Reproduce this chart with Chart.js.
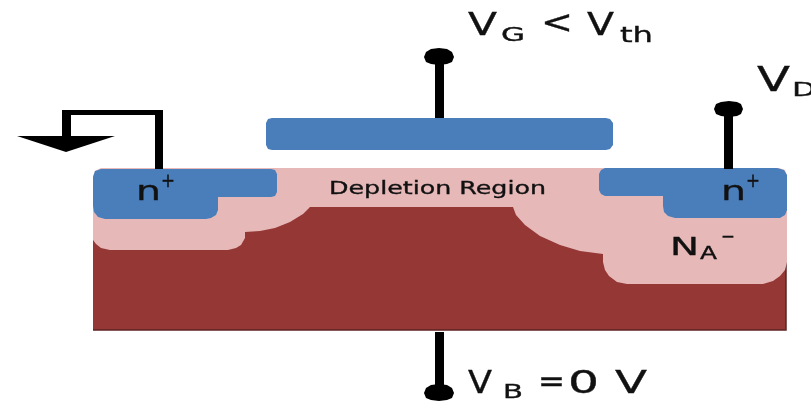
<!DOCTYPE html>
<html>
<head>
<meta charset="utf-8">
<style>
  html, body { margin: 0; padding: 0; background: #fff; overflow: hidden; }
  canvas { display: block; filter: blur(0.5px); }
</style>
<script src="https://cdn.jsdelivr.net/npm/chart.js@4/dist/chart.umd.min.js"></script>
</head>
<body>
<canvas id="chart" width="811" height="401"></canvas>
<script>
// outlines, in picture pixels
var substrate = [[93,190],[786,190],[786,330],[93,330]];
var depletion = [[101,168],[779,168],[785,170],[787,176],[787,262],[785,270],[780,276],[773,281],[763,284],
  [627,284],[617,282],[609,276],[605,270],[603,262],[603,254],[580,251],[560,245],[540,236],[525,225],[516,215],[513,207],
  [310,207],[303,214],[290,222],[275,228],[260,231],[245,232],[245,238],[241,245],[236,248],[228,250],
  [110,250],[101,248],[96,244],[93,240],[93,176],[95,171]];
var sourceWell = [[101,169],[271,169],[275,170],[277,174],[277,192],[275,196],[271,197],[218,197],[218,210],[216,215],[211,218],[206,219],
  [105,219],[98,217],[94,212],[93,206],[93,177],[95,171]];
var drainWell = [[605,168],[777,168],[784,170],[787,175],[787,210],[785,215],[780,218],[675,218],[668,216],[664,212],[663,206],
  [663,196],[605,196],[601,194],[599,190],[599,174],[601,170]];
var gatePlate = [[272,118],[606,118],[610,119],[613,123],[613,145],[610,149],[606,150],[272,150],[268,149],[266,145],[266,123],[268,119]];
var sourceWire = [[62,110],[163,110],[163,169],[155,169],[155,115],[71,115],[71,137],[62,137]];
var groundArrow = [[17,136],[115,136],[66,152]];
var gateStem = [[435,60],[444,60],[444,118],[435,118]];
var gateKnob = [[424,57],[426,52],[431,49],[439,48],[447,49],[452,52],[454,57],[452,62],[447,64],[439,65],[431,64],[426,62]];
var drainStem = [[724,112],[733,112],[733,169],[724,169]];
var drainKnob = [[714,109],[716,104],[721,102],[729,101],[737,102],[741,104],[743,109],[741,114],[737,116],[729,117],[721,116],[716,114]];
var bodyStem = [[435,332],[444,332],[444,390],[435,390]];
var bodyKnob = [[424,393],[426,388],[431,385],[439,384],[447,385],[452,388],[454,393],[452,398],[447,400],[439,401],[431,400],[426,398]];

var shapes = [substrate, depletion, sourceWell, drainWell, gatePlate, sourceWire, groundArrow,
  gateStem, gateKnob, drainStem, drainKnob, bodyStem, bodyKnob];
var shapeColors = ['#953735', '#e6b9b8', '#4a7ebb', '#4a7ebb', '#4a7ebb', '#000', '#000',
  '#000', '#000', '#000', '#000', '#000', '#000'];

// text, and where each piece goes: left, baseline, font size, width
var texts = ['V', 'G', '<', 'V', 'th', 'V', 'D', 'n', '+', 'n', '+', 'Depletion Region', 'N', 'A', '\u2212', 'V', 'B', '=', '0', 'V'];
var textBoxes = [
  [468,35,32,29], [501,41,19,24], [541,33,32,32], [587,35,32,27], [620,42,21,33],
  [757,91,33,33], [792,96,20,24],
  [136,200,27,25], [161,187,20,14],
  [721,200,27,25], [746,187,20,14],
  [329,194,18,217],
  [670,255,25,29], [700,259,17,17], [721,243,20,14],
  [468,393,32,24], [503,398,19,20], [538,391,30,27], [568,393,32,31], [615,393,32,32]
];

var textPlugin = {
  id: 'diagramText',
  afterDatasetsDraw: function(chart) {
    var ctx = chart.ctx;
    texts.forEach(function(t, i) {
      var box = textBoxes[i];
      ctx.save();
      ctx.font = box[2] + 'px "DejaVu Sans"';
      ctx.fillStyle = '#111';
      ctx.strokeStyle = '#111';
      ctx.lineWidth = 0.35;
      ctx.textBaseline = 'alphabetic';
      var stretch = box[3] / ctx.measureText(t).width;
      ctx.translate(chart.scales.x.getPixelForValue(box[0]), chart.scales.y.getPixelForValue(box[1]));
      ctx.scale(stretch, 1);
      ctx.fillText(t, 0, 0);
      ctx.strokeText(t, 0, 0);
      ctx.restore();
    });
  }
};

// datasets draw last-to-first, so the list is reversed to keep the painting order
var datasets = shapes.map(function(points, i) {
  return {
    data: points.map(function(p) { return { x: p[0], y: p[1] }; }),
    showLine: true,
    fill: 'shape',
    backgroundColor: shapeColors[i],
    borderColor: i === 0 ? '#5b2423' : shapeColors[i],
    borderWidth: i === 0 ? 1.5 : 0,
    pointRadius: 0,
    tension: 0
  };
}).reverse();

new Chart(document.getElementById('chart').getContext('2d'), {
  type: 'scatter',
  data: { datasets: datasets },
  options: {
    responsive: false,
    animation: false,
    layout: { padding: 0 },
    plugins: { legend: { display: false }, tooltip: { enabled: false } },
    scales: {
      x: { type: 'linear', min: 0, max: 811, display: false },
      y: { type: 'linear', min: 0, max: 401, reverse: true, display: false }
    }
  },
  plugins: [textPlugin]
});
</script>
</body>
</html>
